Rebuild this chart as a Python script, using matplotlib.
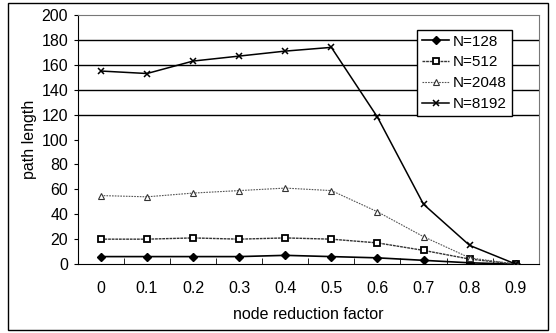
import matplotlib.pyplot as plt
import matplotlib.patches as patches
import numpy as np

# data
factors = ['0', '0.1', '0.2', '0.3', '0.4', '0.5', '0.6', '0.7', '0.8', '0.9']
n128 = [6, 6, 6, 6, 7, 6, 5, 3, 1, 0]
n512 = [20, 20, 21, 20, 21, 20, 17, 11, 4, 0]
n2048 = [55, 54, 57, 59, 61, 59, 42, 22, 5, 0]
n8192 = [155, 153, 163, 167, 171, 174, 118, 48, 15, 0]
y_ticks = [0, 20, 40, 60, 80, 100, 120, 140, 160, 180, 200]

plt.rcParams['font.family'] = ['Liberation Sans', 'DejaVu Sans']

fig = plt.figure(figsize=(5.56, 3.33), dpi=100)
ax = fig.add_axes([0.140, 0.207, 0.829, 0.748])

x = np.arange(len(factors))

# horizontal gridlines (only the upper ones show clearly in the scan)
for yv in y_ticks[1:-1]:
    if yv >= 120:
        ax.axhline(yv, color='black', lw=1.0, zorder=1)

ax.plot(x, n128, color='black', lw=1.2, marker='D', ms=4,
        mfc='black', mec='black', label='N=128', zorder=3)
ax.plot(x, n512, color='#333333', lw=1.0, ls=(0, (2, 0.6)), marker='s', ms=5,
        mfc='white', mec='black', mew=1.3, label='N=512', zorder=3)
ax.plot(x, n2048, color='#555555', lw=0.8, ls=(0, (1.5, 1)), marker='^', ms=5,
        mfc='white', mec='#333333', mew=0.8, label='N=2048', zorder=3)
ax.plot(x, n8192, color='black', lw=1.1, marker='x', ms=5, mew=1.1,
        label='N=8192', zorder=3)

ax.set_xlim(-0.5, len(factors) - 0.5)
ax.set_ylim(0, 200)
ax.set_xticks(x)
ax.set_xticklabels(factors)
ax.set_xticks(x[:-1] + 0.5, minor=True)
ax.set_yticks(y_ticks)
ax.tick_params(axis='x', which='major', length=0, labelsize=11.5, pad=12)
ax.tick_params(axis='x', which='minor', direction='in', length=4)
ax.tick_params(axis='y', direction='out', length=3, labelsize=11.5, pad=4)

for side in ['top', 'right']:
    ax.spines[side].set_color('#777777')
    ax.spines[side].set_linewidth(0.8)
    ax.spines[side].set_linestyle((0, (2, 1)))

ax.set_xlabel('node reduction factor', fontsize=11.5, labelpad=8)
ax.set_ylabel('path length', fontsize=11.5, labelpad=3)

leg = ax.legend(loc='upper right', bbox_to_anchor=(0.941, 0.94), fontsize=11,
                frameon=True, fancybox=False, edgecolor='black', framealpha=1,
                handlelength=1.8, handletextpad=0.25, borderpad=0.3,
                labelspacing=0.45, borderaxespad=0)
leg.get_frame().set_linewidth(1.0)

# outer frame around the whole chart
fig.patches.append(patches.Rectangle((8 / 556, 3 / 333), 540 / 556, 327 / 333,
                                     transform=fig.transFigure, fill=False,
                                     edgecolor='black', lw=1.0))

plt.savefig('out.png', dpi=100)
